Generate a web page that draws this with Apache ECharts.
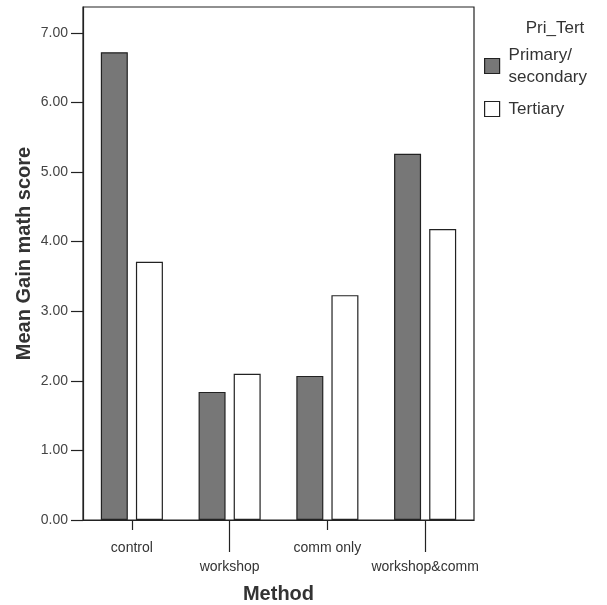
<!DOCTYPE html>
<html><head><meta charset="utf-8">
<script src="https://cdn.jsdelivr.net/npm/echarts@6/dist/echarts.min.js"></script>
<style>html,body{margin:0;padding:0;background:#fff}#c{width:607px;height:605px}</style>
</head><body><div id="c"></div>
<script>
const categories = ['control', 'workshop', 'comm only', 'workshop&comm'];
const primarySecondary = [6.72, 1.84, 2.07, 5.26];
const tertiary = [3.71, 2.10, 3.23, 4.18];
const yTicks = [0, 1, 2, 3, 4, 5, 6, 7];
const seriesNames = ['Primary/\nsecondary', 'Tertiary'];

const font = 'Liberation Sans, Arial, sans-serif';
const chart = echarts.init(document.getElementById('c'), null, {renderer: 'canvas'});
chart.setOption({
  backgroundColor: '#fff',
  animation: false,
  title: {
    text: 'Pri_Tert', left: 550, textAlign: 'center', top: 15,
    textStyle: {fontFamily: font, fontSize: 17, fontWeight: 'normal', color: '#333'}
  },
  legend: {
    orient: 'vertical', left: 479, top: 39,
    itemWidth: 15, itemHeight: 15, itemGap: 10, icon: 'rect',
    data: seriesNames,
    itemStyle: {borderColor: '#222', borderWidth: 1.2},
    textStyle: {fontFamily: font, fontSize: 17, color: '#333', lineHeight: 22, padding: [0,0,0,4]}
  },
  grid: {left: 83, right: 133, top: 7, bottom: 85, show: true, borderColor: '#222', borderWidth: 1.2,
    containLabel: false, outerBoundsMode: 'none'},
  xAxis: [{
    type: 'category', data: categories, position: 'bottom',
    name: 'Method', nameLocation: 'middle', nameGap: 64, nameMoveOverlap: false,
    nameTextStyle: {fontFamily: font, fontSize: 20, fontWeight: 'bold', color: '#333'},
    axisLine: {show: true, lineStyle: {color: '#222', width: 1.2}},
    axisTick: {show: true, alignWithLabel: true, length: 32, lineStyle: {color: '#222', width: 1.2},
      interval: function (i) { return i % 2 === 1; }},
    axisLabel: {interval: 0, margin: 19, fontFamily: font, fontSize: 14, color: '#333',
      formatter: function (v, i) { return i % 2 === 1 ? '\n' + v : v + '\n '; },
      lineHeight: 19}
  }, {
    type: 'category', data: categories, position: 'bottom',
    axisLine: {show: false},
    axisTick: {show: true, alignWithLabel: true, length: 10, lineStyle: {color: '#222', width: 1.2},
      interval: function (i) { return i % 2 === 0; }},
    axisLabel: {show: false}
  }],
  yAxis: {
    type: 'value', min: 0, max: 7.37,
    name: 'Mean Gain math score', nameLocation: 'middle', nameGap: 49, nameMoveOverlap: false,
    nameTextStyle: {fontFamily: font, fontSize: 20, fontWeight: 'bold', color: '#333', padding: [0, 0, 0, 20]},
    splitLine: {show: false},
    axisLine: {show: true, lineStyle: {color: '#222', width: 1.2}},
    axisTick: {show: true, length: 12, customValues: yTicks, lineStyle: {color: '#222', width: 1.2}},
    axisLabel: {customValues: yTicks, margin: 15, fontFamily: font, fontSize: 14, color: '#444',
      formatter: function (v) { return v.toFixed(2); }}
  },
  series: [{
    name: seriesNames[0], type: 'bar', data: primarySecondary, barWidth: 27, barGap: '30%',
    itemStyle: {color: '#777777', borderColor: '#222', borderWidth: 1.2}
  }, {
    name: seriesNames[1], type: 'bar', data: tertiary, barWidth: 27, barGap: '30%',
    itemStyle: {color: '#ffffff', borderColor: '#222', borderWidth: 1.2}
  }]
});
</script></body></html>
